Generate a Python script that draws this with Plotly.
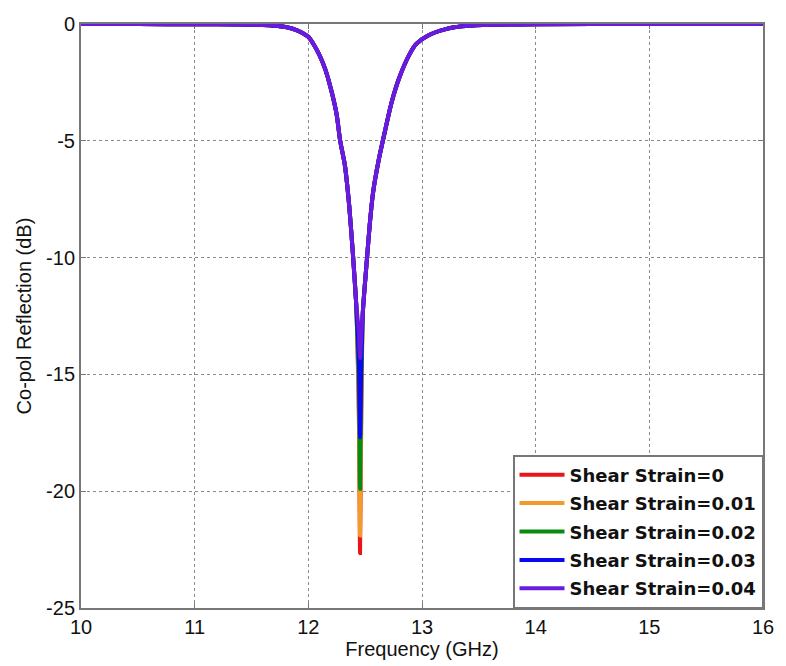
import plotly.graph_objects as go

freq = [10.0, 10.5, 11.0, 11.4, 11.6, 11.7, 11.8, 11.9, 12.0, 12.05, 12.1, 12.15, 12.21, 12.25,
        12.28, 12.32, 12.36, 12.39, 12.42,
        12.445, 12.455, 12.465,
        12.48, 12.51, 12.54, 12.57, 12.62, 12.66, 12.73, 12.8, 12.89, 12.95, 13.05,
        13.21, 13.35, 13.53, 14.0, 15.0, 16.0]

left_side = [0.0, -0.005, -0.01, -0.02, -0.04, -0.07, -0.13, -0.27, -0.55, -0.9, -1.35, -1.95,
             -3.0, -3.9, -5.0, -6.0, -7.8, -9.7, -11.9]
right_side = [-12.3, -10.4, -8.6, -7.2, -5.8, -4.9, -3.4, -2.3, -1.3, -0.85, -0.5,
              -0.22, -0.1, -0.04, -0.01, 0.0, 0.0]

strain0 = left_side + [-17.0, -22.65, -17.2] + right_side
strain1 = left_side + [-16.5, -21.9, -16.8] + right_side
strain2 = left_side + [-15.5, -19.9, -15.8] + right_side
strain3 = left_side + [-14.5, -17.7, -14.8] + right_side
strain4 = left_side + [-13.2, -14.3, -13.4] + right_side

names = ["Shear Strain=0", "Shear Strain=0.01", "Shear Strain=0.02",
         "Shear Strain=0.03", "Shear Strain=0.04"]
series = [strain0, strain1, strain2, strain3, strain4]
colors = ["#e8161b", "#f39a2a", "#0a8a12", "#0a0af0", "#6a1ae0"]

x_ticks = [10, 11, 12, 13, 14, 15, 16]
y_ticks = [0, -5, -10, -15, -20, -25]
y_tick_text = ["0", "-5", "-10", "-15", "-20", "-25"]

fig = go.Figure()
for i, (n, s, c) in enumerate(zip(names, series, colors)):
    fig.add_trace(go.Scatter(x=freq, y=s, mode="lines", name=n, legendgroup=f"g{i}",
                             line=dict(color=c, width=4, shape="spline", smoothing=0.6)))

axis_common = dict(showline=True, linecolor="#777777", linewidth=2, mirror="ticks",
                   showgrid=True, gridcolor="#8a8a8a", griddash="dot", gridwidth=1,
                   ticks="inside", ticklen=5, tickcolor="#777777", zeroline=False,
                   layer="below traces",
                   tickfont=dict(family="Arial", size=20, color="#111111"))

fig.update_xaxes(range=[10, 16], tickvals=x_ticks,
                 title=dict(text="Frequency (GHz)", font=dict(family="Arial", size=20, color="#111111"),
                            standoff=2),
                 **axis_common)
fig.update_yaxes(range=[-25, 0], tickvals=y_ticks, ticktext=y_tick_text,
                 title=dict(text="Co-pol Reflection (dB)", font=dict(family="Arial", size=20, color="#111111"),
                            standoff=9),
                 **axis_common)

fig.update_layout(
    width=786, height=666,
    margin=dict(l=81, r=15, t=24, b=56),
    paper_bgcolor="white", plot_bgcolor="white",
    showlegend=True,
    legend=dict(x=1, y=0, xanchor="right", yanchor="bottom",
                bgcolor="white", bordercolor="#777777", borderwidth=1.5,
                font=dict(family="DejaVu Sans", size=18, color="#111111", weight="bold"),
                tracegroupgap=2, itemwidth=45),
)

fig.write_html("out.html")
